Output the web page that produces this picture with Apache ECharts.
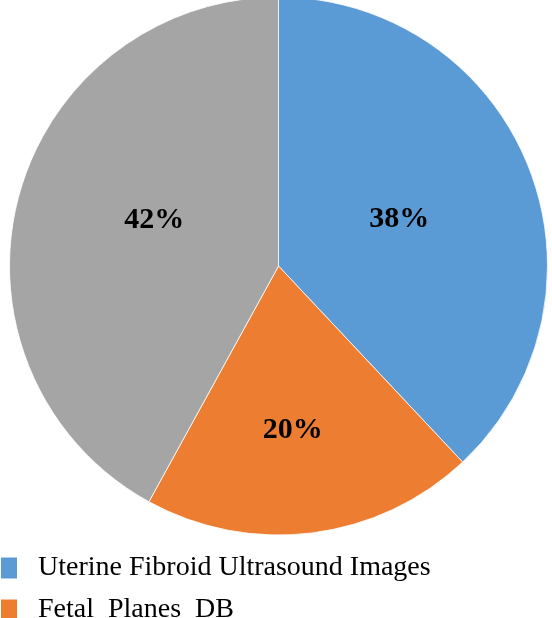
<!DOCTYPE html>
<html>
<head>
<meta charset="utf-8">
<script src="https://cdn.jsdelivr.net/npm/echarts@6/dist/echarts.min.js"></script>
<style>html,body{margin:0;padding:0;background:#fff;}#c{width:552px;height:618px;}</style>
</head>
<body>
<div id="c"></div>
<script>
var categories = ['Uterine Fibroid Ultrasound Images', 'Fetal  Planes  DB', 'Other'];
var values = [38, 20, 42];
var colors = ['#5B9BD5', '#ED7D31', '#A5A5A5'];
var labelShift = [[-7, 4], [-3, 28], [9, -12]];

var chart = echarts.init(document.getElementById('c'), null, {renderer: 'canvas'});
chart.setOption({
  animation: false,
  color: colors,
  legend: {
    orient: 'vertical',
    left: 1,
    top: 554,
    height: 200,
    padding: 0,
    itemWidth: 16,
    itemHeight: 21,
    itemGap: 14,
    icon: 'rect',
    data: categories,
    itemStyle: {borderWidth: 0},
    textStyle: {fontFamily: 'Liberation Serif', fontSize: 28, lineHeight: 28, color: '#000', padding: [0, 0, 0, 16]}
  },
  series: [{
    type: 'pie',
    center: [278.5, 266],
    radius: [0, 269],
    startAngle: 90,
    clockwise: true,
    itemStyle: {borderColor: '#fff', borderWidth: 0.8},
    label: {
      position: 'inside',
      formatter: '{d}%',
      fontFamily: 'Liberation Serif',
      fontWeight: 'bold',
      fontSize: 30,
      color: '#000'
    },
    labelLayout: function (p) {
      var s = labelShift[p.dataIndex];
      return {dx: s[0], dy: s[1]};
    },
    emphasis: {disabled: true},
    data: categories.map(function (c, i) { return {name: c, value: values[i]}; })
  }]
});
</script>
</body>
</html>
